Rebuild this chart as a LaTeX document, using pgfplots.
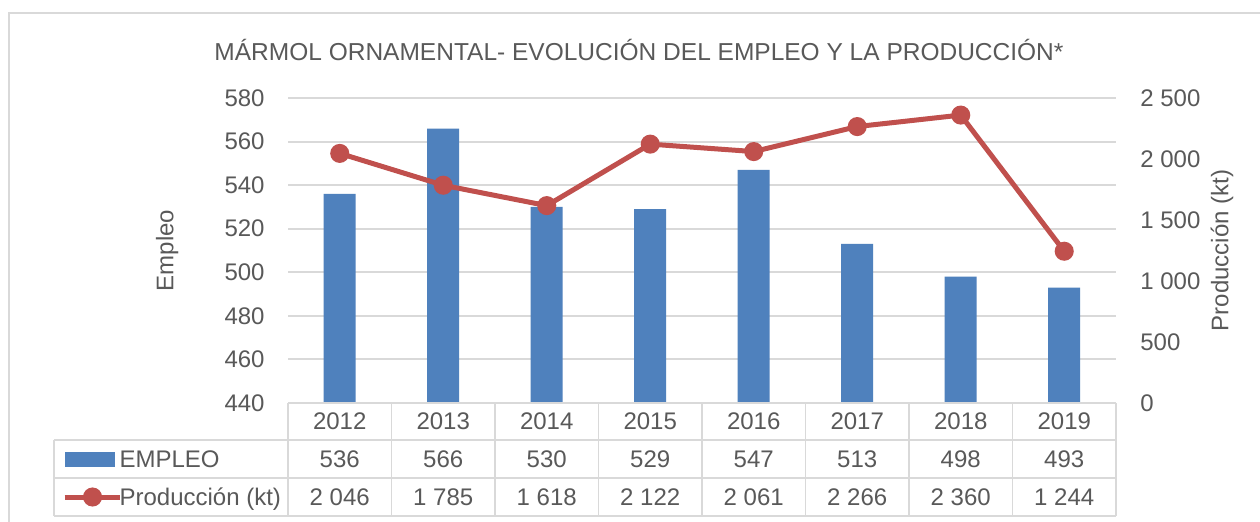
\documentclass[border=0pt]{standalone}
\usepackage{pgfplots}
\pgfplotsset{compat=1.18}
\usepackage{fontspec}
\setmainfont{Liberation Sans}
\definecolor{barblue}{HTML}{4F81BD}
\definecolor{linered}{HTML}{C0504D}
\definecolor{gridgray}{HTML}{D9D9D9}
\definecolor{txt}{HTML}{595959}
\newcommand{\f}{\fontsize{12}{14}\selectfont}
\begin{document}
\begin{tikzpicture}
\useasboundingbox (0,0) rectangle (630pt,-260.5pt);
\fill[white] (0,0) rectangle (630pt,-260.5pt);
\draw[gridgray, line width=1pt] (4.5pt,-261pt) -- (4.5pt,-6.5pt) -- (631pt,-6.5pt);
\node[text=txt, font=\fontsize{12.25}{14}\selectfont] at (319.5pt,-25pt) {MÁRMOL ORNAMENTAL- EVOLUCIÓN DEL EMPLEO Y LA PRODUCCIÓN*};

\pgfplotsset{common/.style={
  at={(144pt,-201.5pt)}, anchor=south west, scale only axis, width=414pt, height=152.5pt,
  xmin=-0.5, xmax=7.5, hide x axis, axis line style={draw=none}, major tick length=0pt,
  tick label style={font=\f, text=txt, inner sep=0pt},
  label style={font=\f, text=txt},
  /pgf/number format/assume math mode=true,
}}

\begin{axis}[common, ymin=440, ymax=580, ytick={440,460,...,580}, ymajorgrids,
  grid style={gridgray, line width=1pt},
  yticklabel style={anchor=east, xshift=-11.5pt},
  ylabel={Empleo}, ylabel style={at={(axis description cs:-0.146,0.5)}, anchor=center}]
\addplot[ybar, bar width=16pt, bar shift=0pt, fill=barblue, draw=none]
  coordinates {(0,536) (1,566) (2,530) (3,529) (4,547) (5,513) (6,498) (7,493)};
\end{axis}

\begin{axis}[common, ymin=0, ymax=2500, ytick={0,500,...,2500},
  yticklabels={0,500,1 000,1 500,2 000,2 500},
  axis y line*=right, yticklabel style={anchor=west, xshift=12pt},
  ylabel={Producción (kt)}, ylabel style={at={(axis description cs:1.128,0.5)}, anchor=center},
  legend cell align=left,
  legend style={at={(axis description cs:-0.2729,-0.2459)}, anchor=west, draw=none, fill=none,
    inner sep=0pt, outer sep=0pt, row sep=8pt,
    nodes={inner sep=0pt, text height=9.8pt, text depth=1.2pt, font=\f, text=txt},
    /tikz/every odd column/.append style={column sep=-1.2pt}}]
\addlegendimage{legend image code/.code={\fill[barblue] (0.5pt,-3.5pt) rectangle (25pt,3.5pt);
    \path[draw=none, fill=none] (0pt,0pt) (27.5pt,0pt);}}
\addlegendentry{EMPLEO}
\addplot[color=linered, line width=2.5pt, mark=*, mark size=3.5pt,
  legend image code/.code={\draw[linered, line width=2.5pt] (0pt,0pt) -- (27.5pt,0pt);
    \fill[linered] (14pt,0pt) circle (3.5pt);}]
  coordinates {(0,2046) (1,1785) (2,1618) (3,2122) (4,2061) (5,2266) (6,2360) (7,1244)};
\addlegendentry{Producción (kt)}
\end{axis}

% data table
\begin{scope}[gridgray, line width=0.9pt]
\draw (144pt,-201.5pt) -- (558pt,-201.5pt);
\foreach \yy in {-220,-239,-258} \draw (27pt,\yy pt) -- (558pt,\yy pt);
\draw (27pt,-220pt) -- (27pt,-258pt);
\foreach \k in {0,...,8} \draw ({(144+51.75*\k)*1pt},-201.5pt) -- ++(0,-56.5pt);
\end{scope}
\begin{scope}[every node/.style={font=\f, text=txt, inner sep=0pt}]
\foreach \v [count=\i from 0] in {2012,2013,2014,2015,2016,2017,2018,2019}
  \node at ({(144+51.75*(\i+0.5))*1pt},-210.75pt) {\v};
\foreach \v [count=\i from 0] in {536,566,530,529,547,513,498,493}
  \node at ({(144+51.75*(\i+0.5))*1pt},-229.5pt) {\v};
\foreach \v [count=\i from 0] in {2 046,1 785,1 618,2 122,2 061,2 266,2 360,1 244}
  \node at ({(144+51.75*(\i+0.5))*1pt},-248.5pt) {\v};
\end{scope}
\end{tikzpicture}
\end{document}
